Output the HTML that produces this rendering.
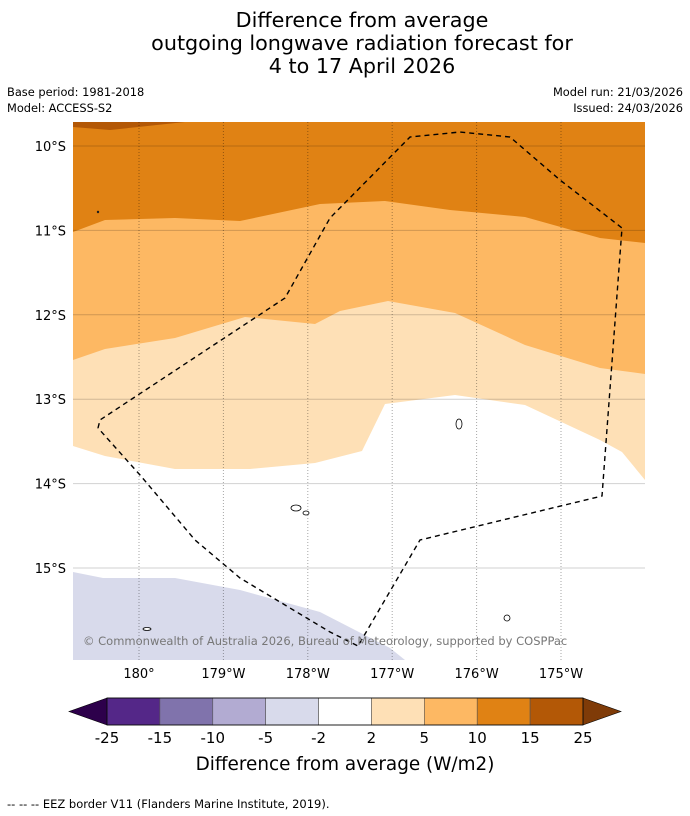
<!DOCTYPE html>
<html><head><meta charset="utf-8">
<style>
body{margin:0;background:#fff;font-family:"DejaVu Sans","Liberation Sans",sans-serif;}
#wrap{position:relative;width:690px;height:816px;overflow:hidden;}
</style></head>
<body>
<div id="wrap">
<svg id="svg" width="690" height="816" xmlns="http://www.w3.org/2000/svg" font-family="DejaVu Sans, Liberation Sans, sans-serif">
<g font-size="20.7" text-anchor="middle" fill="#000">
<text x="362" y="27">Difference from average</text>
<text x="362" y="50">outgoing longwave radiation forecast for</text>
<text x="362" y="73">4 to 17 April 2026</text>
</g>
<g font-size="11.4" fill="#000">
<text x="7" y="96">Base period: 1981-2018</text>
<text x="7" y="112">Model: ACCESS-S2</text>
<text x="683" y="96" text-anchor="end">Model run: 21/03/2026</text>
<text x="683" y="112" text-anchor="end">Issued: 24/03/2026</text>
</g>
<defs><clipPath id="mapclip"><rect x="73" y="122" width="572" height="538"/></clipPath></defs>
<g id="map" clip-path="url(#mapclip)"></g>
<g id="axes"></g>
<g id="cbar"></g>
<text x="345" y="770" font-size="18.4" text-anchor="middle">Difference from average (W/m2)</text>
<text x="7" y="808" font-size="11.5">--  --  -- EEZ border V11 (Flanders Marine Institute, 2019).</text>
</svg>
</div>
<script>
// axis data (lon as degrees east, 180+ = west)
const lonTicks=[180,181,182,183,184,185];
const lonLabels=["180°","179°W","178°W","177°W","176°W","175°W"];
const latTicks=[10,11,12,13,14,15];
const latLabels=["10°S","11°S","12°S","13°S","14°S","15°S"];
// contour boundaries [lon, latS]
const top25Lons=[179.0,179.218,179.656,180.545,180.6];
const top25Lats=[9.6,9.775,9.81,9.716,9.6];
const b10Lons=[179.218,179.597,180.427,181.197,182.145,182.915,183.685,184.573,185.462,185.995];
const b10Lats=[11.019,10.877,10.853,10.889,10.687,10.652,10.758,10.841,11.09,11.149];
const b5Lons=[179.218,179.597,180.427,181.256,182.085,182.382,182.95,183.744,184.573,185.462,185.995];
const b5Lats=[12.536,12.405,12.275,12.026,12.109,11.955,11.836,11.979,12.358,12.63,12.701];
const b2Lons=[179.218,179.597,180.427,181.315,182.085,182.642,182.915,183.744,184.573,185.462,185.723,185.995];
const b2Lats=[13.555,13.673,13.827,13.827,13.756,13.614,13.057,12.95,13.069,13.483,13.626,13.957];
const neg2Lons=[179.218,179.573,180.427,181.197,182.145,182.974,183.152];
const neg2Lats=[15.047,15.118,15.118,15.261,15.521,15.948,16.09];
const eezLons=[179.514,179.538,181.730,182.263,183.211,183.803,184.396,184.988,185.723,185.486,183.329,182.595,182.263,181.197,180.664,180.012,179.514];
const eezLats=[13.341,13.246,11.801,10.853,9.893,9.834,9.893,10.403,10.972,14.147,14.668,15.924,15.758,15.118,14.668,13.898,13.341];
const cbLabels=["-25","-15","-10","-5","-2","2","5","10","15","25"];
const cbColors=["#542788","#8073ac","#b2abd2","#d8daeb","#ffffff","#fee0b6","#fdb863","#e08214","#b35806"];

const NS="http://www.w3.org/2000/svg";
const X=lon=>139+(lon-180)*84.4;
const Y=lat=>146+(lat-10)*84.4;
function mk(tag,attrs,parent){const e=document.createElementNS(NS,tag);for(const k in attrs)e.setAttribute(k,attrs[k]);parent.appendChild(e);return e;}
const map=document.getElementById('map'),axes=document.getElementById('axes'),cbar=document.getElementById('cbar');
function pts(lons,lats){return lons.map((l,i)=>X(l).toFixed(1)+','+Y(lats[i]).toFixed(1));}
const L=70,R=650,T=118,B=665;
function band(upLons,upLats,color,name){
  let p=upLons?pts(upLons,upLats):[L+','+T,R+','+T];
  if(upLons){p=[L+','+Y(upLats[0]).toFixed(1)].concat(p).concat([R+','+Y(upLats[upLats.length-1]).toFixed(1)]);}
  p=p.concat([R+','+B,L+','+B]);
  const e=mk('polygon',{points:p.join(' '),fill:color},map);
  
  
}
band(null,null,'#e08214','band-10-15');
band(b10Lons,b10Lats,'#fdb863','band-5-10');
band(b5Lons,b5Lats,'#fee0b6','band-2-5');
band(b2Lons,b2Lats,'#ffffff','band-neutral');
band(neg2Lons,neg2Lats,'#d8daeb','band-neg5-neg2');
const tp=mk('polygon',{points:pts(top25Lons,top25Lats).join(' '),fill:'#b35806'},map);


latTicks.forEach(v=>{const g=mk('line',{x1:73,x2:645,y1:Y(v),y2:Y(v),stroke:'rgba(0,0,0,0.18)','stroke-width':1},map);
 
 });
lonTicks.forEach(v=>{const g=mk('line',{x1:X(v),x2:X(v),y1:122,y2:660,stroke:'rgba(0,0,0,0.35)','stroke-width':1,'stroke-dasharray':'1,2'},map);
 
 });
[[296,508,5,3],[306,513,3,2],[459,424,3,5],[507,618,3,3],[147,629,4,1.5],[98,212,0.8,0.8]].forEach(a=>{const e=mk('ellipse',{cx:a[0],cy:a[1],rx:a[2],ry:a[3],fill:'#fff',stroke:'#000','stroke-width':0.8},map);
 
 });
const ez=mk('polyline',{points:pts(eezLons,eezLats).join(' '),fill:'none',stroke:'#000','stroke-width':1.4,'stroke-dasharray':'5,4'},map);


const cp=mk('text',{x:83,y:645,'font-size':11.5,fill:'#777'},map);cp.textContent='© Commonwealth of Australia 2026, Bureau of Meteorology, supported by COSPPac';


latTicks.forEach((v,i)=>{const t=mk('text',{x:66,y:Y(v)+5,'font-size':13,'text-anchor':'end'},axes);t.textContent=latLabels[i];
 
 });
lonTicks.forEach((v,i)=>{const t=mk('text',{x:X(v),y:678,'font-size':13,'text-anchor':'middle'},axes);t.textContent=lonLabels[i];
 
 });
const cx0=107,cx1=583,cy0=698,cy1=725,w=(cx1-cx0)/cbColors.length;
const lt=mk('polygon',{points:`${cx0},${cy0} ${cx0},${cy1} 69,${(cy0+cy1)/2}`,fill:'#2d004b',stroke:'#000','stroke-width':0.6},cbar);


const rt=mk('polygon',{points:`${cx1},${cy0} ${cx1},${cy1} 621,${(cy0+cy1)/2}`,fill:'#7f3b08',stroke:'#000','stroke-width':0.6},cbar);


cbColors.forEach((c,i)=>{const r=mk('rect',{x:cx0+i*w,y:cy0,width:w,height:cy1-cy0,fill:c,stroke:'#555','stroke-width':0.6},cbar);
 
 });
mk('rect',{x:cx0,y:cy0,width:cx1-cx0,height:cy1-cy0,fill:'none',stroke:'#000','stroke-width':0.8},cbar);
cbLabels.forEach((s,i)=>{const t=mk('text',{x:cx0+i*w,y:743,'font-size':15,'text-anchor':'middle'},cbar);t.textContent=s;
 
 });
</script>
</body></html>
